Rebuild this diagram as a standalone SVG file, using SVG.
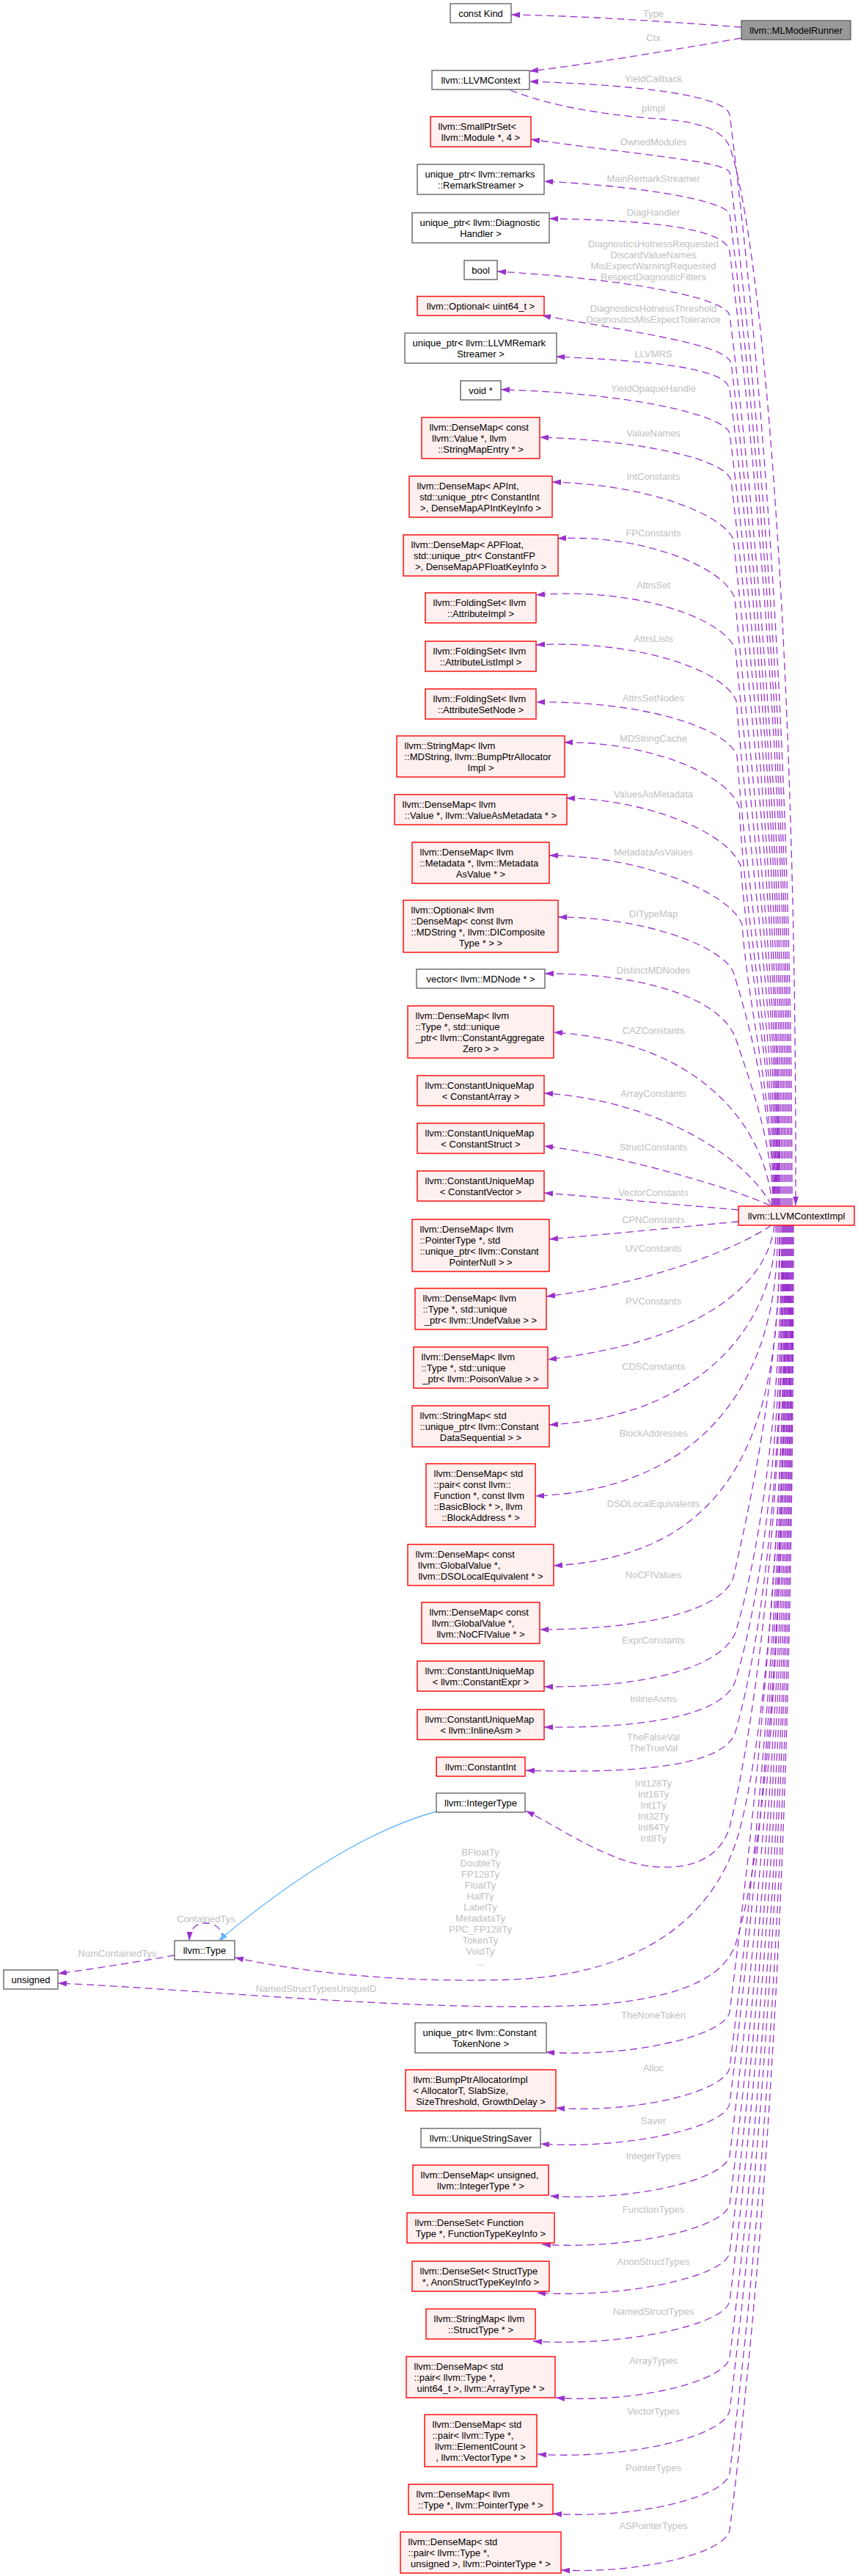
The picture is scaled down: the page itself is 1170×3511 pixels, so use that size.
<svg xmlns="http://www.w3.org/2000/svg" width="1170" height="3511" viewBox="0 0 1170 3511">
<defs>
<style>
text{font-family:"Liberation Sans",Arial,Helvetica,sans-serif;font-size:13px}
.c{text-anchor:middle;fill:#000}
.s{text-anchor:start;fill:#000}
.l{text-anchor:middle;fill:#c0c0c0}
.w{fill:#fff;stroke:#666;stroke-width:1.4}
.r{fill:#fff0f0;stroke:#f00;stroke-width:1.4}
.g{fill:#999;stroke:#666;stroke-width:1.4}
.e{fill:none;stroke:#9a32cd;stroke-width:1.3;stroke-dasharray:10,6;marker-end:url(#ah)}
.i{fill:none;stroke:#63b8ff;stroke-width:1.3;marker-end:url(#ab)}
</style>
<marker id="ah" viewBox="0 0 12 8" refX="12" refY="4" markerWidth="12" markerHeight="8" markerUnits="userSpaceOnUse" orient="auto"><path d="M0,0L12,4L0,8z" fill="#9a32cd"/></marker>
<marker id="ab" viewBox="0 0 12 8" refX="12" refY="4" markerWidth="12" markerHeight="8" markerUnits="userSpaceOnUse" orient="auto"><path d="M0,0L12,4L0,8z" fill="#63b8ff"/></marker>
</defs>
<rect width="1170" height="3511" fill="#fff"/>
<g id="edges">
<path class="e" d="M1011,37 C900,29 800,22 697,20"/>
<path class="e" d="M1011,52 C900,71 800,88 722,97"/>
<path class="e" d="M696,123 C760,148 840,158 900,162 C960,167 985,178 995,200 C1040,330 1087,900 1085,1643"/>
<path class="e" d="M1080,1643 C1080,1122 1051,602 995,156 C988,130 872,116 722,111"/>
<path class="e" d="M1078,1643 C1078,1150 1048,657 995,235 C990,220 880,212 724,190"/>
<path class="e" d="M1076,1643 C1076,1170 1046,697 995,292 C990,275 890,255 742,247"/>
<path class="e" d="M1074,1643 C1074,1188 1044,733 995,343 C991,311 884,300 749,298"/>
<path class="e" d="M1072,1643 C1072,1218 1041,794 995,430 C990,405 850,380 678,370"/>
<path class="e" d="M1070,1643 C1070,1241 1039,839 997,495 C990,470 880,455 739,430"/>
<path class="e" d="M1068,1643 C1068,1254 1037,865 995,531 C991,500 880,492 758,486"/>
<path class="e" d="M1066,1643 C1066,1274 1035,906 995,590 C985,565 860,536 683,531"/>
<path class="e" d="M1064,1643 C1064,1297 1032,951 997,655 C990,625 870,600 736,596"/>
<path class="e" d="M1063,1643 C1063,1325 1030,1007 1000,735 C985,700 880,660 753,657"/>
<path class="e" d="M1062,1643 C1062,1353 1026,1063 1002,815 C985,770 870,728 760,734"/>
<path class="e" d="M1061,1643 C1061,1378 1024,1112 1003,885 C985,840 860,800 731,811"/>
<path class="e" d="M1060,1643 C1060,1402 1021,1161 1004,955 C985,910 860,872 731,879"/>
<path class="e" d="M1059,1643 C1059,1428 1018,1214 1005,1030 C990,990 870,955 731,957"/>
<path class="e" d="M1058,1643 C1058,1453 1016,1263 1008,1100 C990,1050 870,1010 769,1012"/>
<path class="e" d="M1057,1643 C1057,1481 1020,1319 1010,1180 C990,1130 870,1088 772,1088"/>
<path class="e" d="M1056,1643 C1056,1509 1020,1375 1012,1260 C995,1215 870,1166 749,1166"/>
<path class="e" d="M1055,1643 C1055,1540 1030,1420 1000,1325 C985,1290 880,1250 761,1250"/>
<path class="e" d="M1054,1643 C1054,1560 1025,1480 1003,1415 C985,1365 890,1327 743,1327"/>
<path class="e" d="M1053,1643 C1045,1540 960,1420 755,1407"/>
<path class="e" d="M1052,1643 C1020,1580 900,1500 742,1490"/>
<path class="e" d="M1050,1643 C1000,1620 850,1575 742,1562"/>
<path class="e" d="M1007,1649 C900,1640 800,1630 742,1626"/>
<path class="e" d="M1007,1665 C900,1675 820,1683 749,1689"/>
<path class="e" d="M1052,1670 C1000,1705 880,1750 745,1767"/>
<path class="e" d="M1056,1670 C1045,1760 940,1830 747,1853"/>
<path class="e" d="M1058,1670 C1060,1800 960,1930 749,1942"/>
<path class="e" d="M1060,1670 C1065,1880 960,2030 730,2039"/>
<path class="e" d="M1062,1670 C1069,1950 1000,2120 755,2134"/>
<path class="e" d="M1064,1670 C1064,1850 1030,2020 1000,2150 C985,2195 880,2221 736,2221"/>
<path class="e" d="M1066,1670 C1066,1900 1040,2100 1003,2225 C985,2270 890,2300 742,2299"/>
<path class="e" d="M1067,1670 C1067,1950 1040,2170 1003,2290 C990,2335 890,2356 742,2354"/>
<path class="e" d="M1068,1670 C1068,2000 1040,2230 1003,2360 C990,2405 880,2418 717,2413"/>
<path class="e" d="M1069,1670 C1069,2050 1030,2350 995,2490 C980,2540 930,2548 890,2544 C830,2538 770,2495 717,2468"/>
<path class="e" d="M1070,1670 C1070,2100 1040,2380 1007,2500 C975,2610 880,2690 700,2698 C560,2703 420,2690 320,2668"/>
<path class="e" d="M1071,1670 C1071,2150 1050,2500 1003,2650 C985,2700 920,2722 820,2732 C600,2745 280,2712 79,2703"/>
<path class="e" d="M1072,1670 C1072,2045 1036,2420 995,2742 C990,2775 857,2805 744,2797"/>
<path class="e" d="M1073,1670 C1073,2072 1039,2474 995,2818 C990,2851 865,2881 758,2873"/>
<path class="e" d="M1074,1670 C1074,2089 1040,2508 995,2867 C990,2900 853,2930 737,2922"/>
<path class="e" d="M1075,1670 C1075,2114 1043,2558 995,2938 C990,2971 860,3001 750,2993"/>
<path class="e" d="M1076,1670 C1076,2137 1046,2604 995,3004 C990,3037 854,3067 739,3059"/>
<path class="e" d="M1077,1670 C1077,2160 1048,2650 995,3070 C990,3103 850,3133 732,3125"/>
<path class="e" d="M1078,1670 C1078,2183 1051,2696 995,3136 C990,3169 847,3199 727,3191"/>
<path class="e" d="M1079,1670 C1079,2210 1054,2750 995,3213 C990,3246 865,3276 758,3268"/>
<path class="e" d="M1080,1670 C1080,2235 1056,2801 995,3285 C990,3321 851,3353 733,3345"/>
<path class="e" d="M1081,1670 C1081,2265 1060,2861 995,3371 C990,3404 862,3434 754,3426"/>
<path class="e" d="M1082,1670 C1082,2292 1063,2915 995,3448 C990,3481 868,3508 765,3503"/>
<path class="e" d="M238,2665 C200,2672 130,2683 79,2690"/>
<path class="e" d="M303,2645 C305,2628 292,2621 280,2621 C268,2621 259,2628 258,2645"/>
<path class="i" d="M595,2469 C500,2495 400,2560 298,2645"/>
<g id="edge-labels">
<text class="l" x="891" y="22.5">Type</text>
<text class="l" x="891" y="55.5">Ctx</text>
<text class="l" x="891" y="111.5">YieldCallback</text>
<text class="l" x="891" y="151.5">pImpl</text>
<text class="l" x="891" y="197.5">OwnedModules</text>
<text class="l" x="891" y="247.5">MainRemarkStreamer</text>
<text class="l" x="891" y="293.5">DiagHandler</text>
<text class="l" x="891" y="336.5">DiagnosticsHotnessRequested<tspan x="891" dy="15">DiscardValueNames</tspan><tspan x="891" dy="15">MisExpectWarningRequested</tspan><tspan x="891" dy="15">RespectDiagnosticFilters</tspan></text>
<text class="l" x="891" y="424.5">DiagnosticsHotnessThreshold<tspan x="891" dy="15">DiagnosticsMisExpectTolerance</tspan></text>
<text class="l" x="891" y="486.5">LLVMRS</text>
<text class="l" x="891" y="533.5">YieldOpaqueHandle</text>
<text class="l" x="891" y="594.5">ValueNames</text>
<text class="l" x="891" y="653.5">IntConstants</text>
<text class="l" x="891" y="730.5">FPConstants</text>
<text class="l" x="891" y="801.5">AttrsSet</text>
<text class="l" x="891" y="874.5">AttrsLists</text>
<text class="l" x="891" y="955.5">AttrsSetNodes</text>
<text class="l" x="891" y="1010.5">MDStringCache</text>
<text class="l" x="891" y="1086.5">ValuesAsMetadata</text>
<text class="l" x="891" y="1165.5">MetadataAsValues</text>
<text class="l" x="891" y="1249.5">DITypeMap</text>
<text class="l" x="891" y="1326.5">DistinctMDNodes</text>
<text class="l" x="891" y="1408.5">CAZConstants</text>
<text class="l" x="891" y="1494.5">ArrayConstants</text>
<text class="l" x="891" y="1567.5">StructConstants</text>
<text class="l" x="891" y="1629.5">VectorConstants</text>
<text class="l" x="891" y="1666.5">CPNConstants</text>
<text class="l" x="891" y="1705.5">UVConstants</text>
<text class="l" x="891" y="1777.5">PVConstants</text>
<text class="l" x="891" y="1866.5">CDSConstants</text>
<text class="l" x="891" y="1957.5">BlockAddresses</text>
<text class="l" x="891" y="2053.5">DSOLocalEquivalents</text>
<text class="l" x="891" y="2150.5">NoCFIValues</text>
<text class="l" x="891" y="2239.5">ExprConstants</text>
<text class="l" x="891" y="2319.5">InlineAsms</text>
<text class="l" x="891" y="2371.5">TheFalseVal<tspan x="891" dy="15">TheTrueVal</tspan></text>
<text class="l" x="891" y="2434.5">Int128Ty<tspan x="891" dy="15">Int16Ty</tspan><tspan x="891" dy="15">Int1Ty</tspan><tspan x="891" dy="15">Int32Ty</tspan><tspan x="891" dy="15">Int64Ty</tspan><tspan x="891" dy="15">Int8Ty</tspan></text>
<text class="l" x="655" y="2528.5">BFloatTy<tspan x="655" dy="15">DoubleTy</tspan><tspan x="655" dy="15">FP128Ty</tspan><tspan x="655" dy="15">FloatTy</tspan><tspan x="655" dy="15">HalfTy</tspan><tspan x="655" dy="15">LabelTy</tspan><tspan x="655" dy="15">MetadataTy</tspan><tspan x="655" dy="15">PPC_FP128Ty</tspan><tspan x="655" dy="15">TokenTy</tspan><tspan x="655" dy="15">VoidTy</tspan><tspan x="655" dy="15">...</tspan></text>
<text class="l" x="431" y="2714.5">NamedStructTypesUniqueID</text>
<text class="l" x="891" y="2750.5">TheNoneToken</text>
<text class="l" x="891" y="2822.5">Alloc</text>
<text class="l" x="891" y="2894.5">Saver</text>
<text class="l" x="891" y="2942.5">IntegerTypes</text>
<text class="l" x="891" y="3015.5">FunctionTypes</text>
<text class="l" x="891" y="3086.5">AnonStructTypes</text>
<text class="l" x="891" y="3154.5">NamedStructTypes</text>
<text class="l" x="891" y="3221.5">ArrayTypes</text>
<text class="l" x="891" y="3290.5">VectorTypes</text>
<text class="l" x="891" y="3367.5">PointerTypes</text>
<text class="l" x="891" y="3446.5">ASPointerTypes</text>
<text class="l" x="281" y="2619.5">ContainedTys</text>
<text class="l" x="160" y="2666.5">NumContainedTys</text>
</g>
</g>
<g id="nodes">
<g id="n_constkind"><rect class="w" x="614" y="5" width="83" height="26"/><text class="c" x="655.5" y="23">const Kind</text></g>
<g id="n_mlmodelrunner"><rect class="g" x="1011" y="28" width="149" height="26"/><text class="c" x="1085.5" y="46">llvm::MLModelRunner</text></g>
<g id="n_llvmcontext"><rect class="w" x="589" y="96" width="133" height="26"/><text class="c" x="655.5" y="114">llvm::LLVMContext</text></g>
<g id="n_llvmcontextimpl"><rect class="r" x="1007" y="1644" width="158" height="26"/><text class="c" x="1086" y="1662">llvm::LLVMContextImpl</text></g>
<g id="n_smallptrset"><rect class="r" x="587" y="159" width="137" height="41"/><text class="s" x="597.5" y="177">llvm::SmallPtrSet&lt;</text><text class="c" x="655.5" y="192">llvm::Module *, 4 &gt;</text></g>
<g id="n_remarkstreamer"><rect class="w" x="569" y="224" width="173" height="41"/><text class="s" x="579.5" y="242">unique_ptr&lt; llvm::remarks</text><text class="c" x="655.5" y="257">::RemarkStreamer &gt;</text></g>
<g id="n_diaghandler"><rect class="w" x="562" y="290" width="187" height="41"/><text class="s" x="572.5" y="308">unique_ptr&lt; llvm::Diagnostic</text><text class="c" x="655.5" y="323">Handler &gt;</text></g>
<g id="n_bool"><rect class="w" x="633" y="355" width="45" height="26"/><text class="c" x="655.5" y="373">bool</text></g>
<g id="n_optional_u64"><rect class="r" x="569" y="404" width="173" height="26"/><text class="c" x="655.5" y="422">llvm::Optional&lt; uint64_t &gt;</text></g>
<g id="n_llvmremarkstreamer"><rect class="w" x="552" y="454" width="207" height="41"/><text class="s" x="562.5" y="472">unique_ptr&lt; llvm::LLVMRemark</text><text class="c" x="655.5" y="487">Streamer &gt;</text></g>
<g id="n_void"><rect class="w" x="628" y="519" width="55" height="26"/><text class="c" x="655.5" y="537">void *</text></g>
<g id="n_valuenames"><rect class="r" x="575" y="569" width="161" height="56"/><text class="s" x="585.5" y="587">llvm::DenseMap&lt; const</text><text class="s" x="589" y="602">llvm::Value *, llvm</text><text class="c" x="655.5" y="617">::StringMapEntry * &gt;</text></g>
<g id="n_apint"><rect class="r" x="558" y="649" width="195" height="56"/><text class="s" x="568.5" y="667">llvm::DenseMap&lt; APInt,</text><text class="s" x="572" y="682">std::unique_ptr&lt; ConstantInt</text><text class="c" x="655.5" y="697">&gt;, DenseMapAPIntKeyInfo &gt;</text></g>
<g id="n_apfloat"><rect class="r" x="550" y="729" width="211" height="56"/><text class="s" x="560.5" y="747">llvm::DenseMap&lt; APFloat,</text><text class="s" x="564" y="762">std::unique_ptr&lt; ConstantFP</text><text class="c" x="655.5" y="777">&gt;, DenseMapAPFloatKeyInfo &gt;</text></g>
<g id="n_attrimpl"><rect class="r" x="580" y="808" width="151" height="41"/><text class="s" x="590.5" y="826">llvm::FoldingSet&lt; llvm</text><text class="c" x="655.5" y="841">::AttributeImpl &gt;</text></g>
<g id="n_attrlistimpl"><rect class="r" x="580" y="874" width="151" height="41"/><text class="s" x="590.5" y="892">llvm::FoldingSet&lt; llvm</text><text class="c" x="655.5" y="907">::AttributeListImpl &gt;</text></g>
<g id="n_attrsetnode"><rect class="r" x="580" y="939" width="151" height="41"/><text class="s" x="590.5" y="957">llvm::FoldingSet&lt; llvm</text><text class="c" x="655.5" y="972">::AttributeSetNode &gt;</text></g>
<g id="n_mdstringcache"><rect class="r" x="541" y="1003" width="229" height="56"/><text class="s" x="551.5" y="1021">llvm::StringMap&lt; llvm</text><text class="s" x="551.5" y="1036">::MDString, llvm::BumpPtrAllocator</text><text class="c" x="655.5" y="1051">Impl &gt;</text></g>
<g id="n_valuesasmetadata"><rect class="r" x="538" y="1083" width="235" height="41"/><text class="s" x="548.5" y="1101">llvm::DenseMap&lt; llvm</text><text class="c" x="655.5" y="1116">::Value *, llvm::ValueAsMetadata * &gt;</text></g>
<g id="n_metadataasvalues"><rect class="r" x="562" y="1148" width="187" height="56"/><text class="s" x="572.5" y="1166">llvm::DenseMap&lt; llvm</text><text class="s" x="572.5" y="1181">::Metadata *, llvm::Metadata</text><text class="c" x="655.5" y="1196">AsValue * &gt;</text></g>
<g id="n_ditypemap"><rect class="r" x="550" y="1227" width="211" height="71"/><text class="s" x="560.5" y="1245">llvm::Optional&lt; llvm</text><text class="s" x="560.5" y="1260">::DenseMap&lt; const llvm</text><text class="s" x="560.5" y="1275">::MDString *, llvm::DIComposite</text><text class="c" x="655.5" y="1290">Type * &gt; &gt;</text></g>
<g id="n_mdnodevec"><rect class="w" x="568" y="1321" width="175" height="26"/><text class="c" x="655.5" y="1339">vector&lt; llvm::MDNode * &gt;</text></g>
<g id="n_caz"><rect class="r" x="556" y="1371" width="199" height="71"/><text class="s" x="566.5" y="1389">llvm::DenseMap&lt; llvm</text><text class="s" x="566.5" y="1404">::Type *, std::unique</text><text class="s" x="566.5" y="1419">_ptr&lt; llvm::ConstantAggregate</text><text class="c" x="655.5" y="1434">Zero &gt; &gt;</text></g>
<g id="n_carray"><rect class="r" x="569" y="1466" width="173" height="41"/><text class="s" x="579.5" y="1484">llvm::ConstantUniqueMap</text><text class="c" x="655.5" y="1499">&lt; ConstantArray &gt;</text></g>
<g id="n_cstruct"><rect class="r" x="569" y="1531" width="173" height="41"/><text class="s" x="579.5" y="1549">llvm::ConstantUniqueMap</text><text class="c" x="655.5" y="1564">&lt; ConstantStruct &gt;</text></g>
<g id="n_cvector"><rect class="r" x="569" y="1596" width="173" height="41"/><text class="s" x="579.5" y="1614">llvm::ConstantUniqueMap</text><text class="c" x="655.5" y="1629">&lt; ConstantVector &gt;</text></g>
<g id="n_cpn"><rect class="r" x="562" y="1662" width="187" height="71"/><text class="s" x="572.5" y="1680">llvm::DenseMap&lt; llvm</text><text class="s" x="572.5" y="1695">::PointerType *, std</text><text class="s" x="572.5" y="1710">::unique_ptr&lt; llvm::Constant</text><text class="c" x="655.5" y="1725">PointerNull &gt; &gt;</text></g>
<g id="n_undef"><rect class="r" x="566" y="1756" width="179" height="56"/><text class="s" x="576.5" y="1774">llvm::DenseMap&lt; llvm</text><text class="s" x="576.5" y="1789">::Type *, std::unique</text><text class="c" x="655.5" y="1804">_ptr&lt; llvm::UndefValue &gt; &gt;</text></g>
<g id="n_poison"><rect class="r" x="564" y="1836" width="183" height="56"/><text class="s" x="574.5" y="1854">llvm::DenseMap&lt; llvm</text><text class="s" x="574.5" y="1869">::Type *, std::unique</text><text class="c" x="655.5" y="1884">_ptr&lt; llvm::PoisonValue &gt; &gt;</text></g>
<g id="n_cds"><rect class="r" x="562" y="1916" width="187" height="56"/><text class="s" x="572.5" y="1934">llvm::StringMap&lt; std</text><text class="s" x="572.5" y="1949">::unique_ptr&lt; llvm::Constant</text><text class="c" x="655.5" y="1964">DataSequential &gt; &gt;</text></g>
<g id="n_blockaddr"><rect class="r" x="581" y="1995" width="149" height="86"/><text class="s" x="591.5" y="2013">llvm::DenseMap&lt; std</text><text class="s" x="591.5" y="2028">::pair&lt; const llvm::</text><text class="s" x="591.5" y="2043">Function *, const llvm</text><text class="s" x="591.5" y="2058">::BasicBlock * &gt;, llvm</text><text class="c" x="655.5" y="2073">::BlockAddress * &gt;</text></g>
<g id="n_dso"><rect class="r" x="556" y="2105" width="199" height="56"/><text class="s" x="566.5" y="2123">llvm::DenseMap&lt; const</text><text class="s" x="570" y="2138">llvm::GlobalValue *,</text><text class="c" x="655.5" y="2153">llvm::DSOLocalEquivalent * &gt;</text></g>
<g id="n_nocfi"><rect class="r" x="575" y="2184" width="161" height="56"/><text class="s" x="585.5" y="2202">llvm::DenseMap&lt; const</text><text class="s" x="589" y="2217">llvm::GlobalValue *,</text><text class="c" x="655.5" y="2232">llvm::NoCFIValue * &gt;</text></g>
<g id="n_cexpr"><rect class="r" x="569" y="2264" width="173" height="41"/><text class="s" x="579.5" y="2282">llvm::ConstantUniqueMap</text><text class="c" x="655.5" y="2297">&lt; llvm::ConstantExpr &gt;</text></g>
<g id="n_inlineasm"><rect class="r" x="569" y="2330" width="173" height="41"/><text class="s" x="579.5" y="2348">llvm::ConstantUniqueMap</text><text class="c" x="655.5" y="2363">&lt; llvm::InlineAsm &gt;</text></g>
<g id="n_constantint"><rect class="r" x="595" y="2395" width="121" height="26"/><text class="c" x="655.5" y="2413">llvm::ConstantInt</text></g>
<g id="n_integertype"><rect class="w" x="595" y="2444" width="121" height="26"/><text class="c" x="655.5" y="2462">llvm::IntegerType</text></g>
<g id="n_type"><rect class="w" x="238" y="2645" width="82" height="26"/><text class="c" x="279" y="2663">llvm::Type</text></g>
<g id="n_unsigned"><rect class="w" x="5" y="2685" width="74" height="26"/><text class="c" x="42" y="2703">unsigned</text></g>
<g id="n_tokennone"><rect class="w" x="566" y="2757" width="179" height="41"/><text class="s" x="576.5" y="2775">unique_ptr&lt; llvm::Constant</text><text class="c" x="655.5" y="2790">TokenNone &gt;</text></g>
<g id="n_bumpptr"><rect class="r" x="553" y="2821" width="205" height="56"/><text class="s" x="563.5" y="2839">llvm::BumpPtrAllocatorImpl</text><text class="s" x="563.5" y="2854">&lt; AllocatorT, SlabSize,</text><text class="c" x="655.5" y="2869">SizeThreshold, GrowthDelay &gt;</text></g>
<g id="n_saver"><rect class="w" x="574" y="2901" width="163" height="26"/><text class="c" x="655.5" y="2919">llvm::UniqueStringSaver</text></g>
<g id="n_integertypes"><rect class="r" x="563" y="2951" width="185" height="41"/><text class="s" x="573.5" y="2969">llvm::DenseMap&lt; unsigned,</text><text class="c" x="655.5" y="2984">llvm::IntegerType * &gt;</text></g>
<g id="n_functiontypes"><rect class="r" x="555" y="3016" width="201" height="41"/><text class="s" x="565.5" y="3034">llvm::DenseSet&lt; Function</text><text class="c" x="655.5" y="3049">Type *, FunctionTypeKeyInfo &gt;</text></g>
<g id="n_anonstruct"><rect class="r" x="562" y="3082" width="187" height="41"/><text class="s" x="572.5" y="3100">llvm::DenseSet&lt; StructType</text><text class="c" x="655.5" y="3115">*, AnonStructTypeKeyInfo &gt;</text></g>
<g id="n_namedstruct"><rect class="r" x="581" y="3147" width="149" height="41"/><text class="s" x="591.5" y="3165">llvm::StringMap&lt; llvm</text><text class="c" x="655.5" y="3180">::StructType * &gt;</text></g>
<g id="n_arraytypes"><rect class="r" x="554" y="3212" width="203" height="56"/><text class="s" x="564.5" y="3230">llvm::DenseMap&lt; std</text><text class="s" x="564.5" y="3245">::pair&lt; llvm::Type *,</text><text class="c" x="655.5" y="3260">uint64_t &gt;, llvm::ArrayType * &gt;</text></g>
<g id="n_vectortypes"><rect class="r" x="579" y="3291" width="153" height="71"/><text class="s" x="589.5" y="3309">llvm::DenseMap&lt; std</text><text class="s" x="589.5" y="3324">::pair&lt; llvm::Type *,</text><text class="s" x="593" y="3339">llvm::ElementCount &gt;</text><text class="c" x="655.5" y="3354">, llvm::VectorType * &gt;</text></g>
<g id="n_pointertypes"><rect class="r" x="557" y="3386" width="197" height="41"/><text class="s" x="567.5" y="3404">llvm::DenseMap&lt; llvm</text><text class="c" x="655.5" y="3419">::Type *, llvm::PointerType * &gt;</text></g>
<g id="n_aspointertypes"><rect class="r" x="546" y="3451" width="219" height="56"/><text class="s" x="556.5" y="3469">llvm::DenseMap&lt; std</text><text class="s" x="556.5" y="3484">::pair&lt; llvm::Type *,</text><text class="c" x="655.5" y="3499">unsigned &gt;, llvm::PointerType * &gt;</text></g>
</g>
</svg>
